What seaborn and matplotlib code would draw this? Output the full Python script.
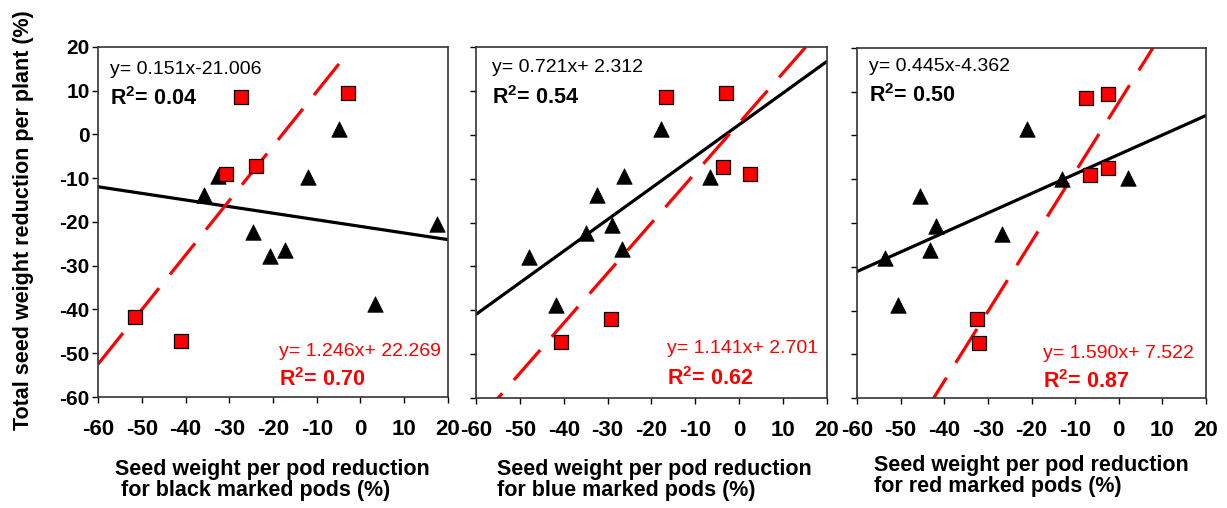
import numpy as np
import pandas as pd
import matplotlib
matplotlib.use("Agg")
import matplotlib.pyplot as plt
import seaborn as sns

# ---- data -------------------------------------------------------------
# black triangles: all-pod plants; red squares: marked-pod plants
black_x1 = [-35.8, -32.5, -5.0, -11.9, -24.5, -20.6, -17.3, 3.4, 17.5]
black_y1 = [-13.8, -9.5, 1.2, -9.7, -22.3, -27.8, -26.3, -38.7, -20.5]
red_x1 = [-27.4, -2.9, -30.8, -24.0, -51.5, -41.1]
red_y1 = [8.6, 9.4, -9.1, -7.3, -41.8, -47.3]

black_x2 = [-47.8, -41.8, -34.9, -32.4, -26.3, -29.1, -26.8, -17.8, -6.7]
black_y2 = [-27.8, -38.7, -22.4, -13.8, -9.5, -20.5, -26.0, 1.4, -9.6]
red_x2 = [-16.8, -3.0, -3.7, 2.5, -29.2, -40.6]
red_y2 = [8.7, 9.5, -7.4, -9.0, -41.9, -47.3]

black_x3 = [-53.7, -50.5, -45.5, -41.8, -43.2, -26.7, -21.1, -13.1, 2.2]
black_y3 = [-28.0, -38.8, -13.9, -20.7, -26.2, -22.4, 1.4, -9.9, -9.7]
red_x3 = [-7.6, -2.4, -6.6, -2.4, -32.5, -32.0]
red_y3 = [8.6, 9.4, -9.1, -7.4, -41.9, -47.3]

# fitted trend lines (slope, intercept) and their printed labels
black_slope = [-0.151, 0.721, 0.445]
black_icpt = [-21.006, 2.312, -4.362]
black_eq = ["y= 0.151x-21.006", "y= 0.721x+ 2.312", "y= 0.445x-4.362"]
black_r2 = ["0.04", "0.54", "0.50"]

red_slope = [1.246, 1.141, 1.590]
red_icpt = [22.269, 2.701, 7.522]
red_eq = ["y= 1.246x+ 22.269", "y= 1.141x+ 2.701", "y= 1.590x+ 7.522"]
red_r2 = ["0.70", "0.62", "0.87"]
red_x_end = [-4.0, 20.0, 20.0]

axis_ticks = list(range(-60, 21, 10))
x_titles = ["Seed weight per pod reduction\n for black marked pods (%)",
            "Seed weight per pod reduction\nfor blue marked pods (%)",
            "Seed weight per pod reduction\nfor red marked pods (%)"]
y_title = "Total seed weight reduction per plant (%)"

# ---- style ------------------------------------------------------------
sns.set_theme(style="white")
plt.rcParams["font.family"] = ["Liberation Sans", "DejaVu Sans"]
plt.rcParams["mathtext.fontset"] = "custom"
plt.rcParams["mathtext.rm"] = "Liberation Sans"
plt.rcParams["mathtext.bf"] = "Liberation Sans:bold"
plt.rcParams["text.color"] = "black"
plt.rcParams["axes.labelcolor"] = "black"
plt.rcParams["xtick.color"] = "black"
plt.rcParams["ytick.color"] = "black"

RED = "#ff0000"
fig = plt.figure(figsize=(12.27, 5.08), dpi=100)

positions = [
    [0.0799, 0.2185, 0.2852, 0.6890],
    [0.3879, 0.2165, 0.2861, 0.6910],
    [0.6985, 0.2160, 0.2844, 0.6900],
]
text_pos = [
    dict(bx=0.034, by=(0.923, 0.834), rx=0.517, ry=(0.117, 0.031)),
    dict(bx=0.046, by=(0.929, 0.838), rx=0.544, ry=(0.128, 0.037)),
    dict(bx=0.034, by=(0.935, 0.845), rx=0.533, ry=(0.115, 0.029)),
]
xlabel_pos = [(0.0937, 0.0965), (0.405, 0.0965), (0.712, 0.104)]

panels = [
    (black_x1, black_y1, red_x1, red_y1),
    (black_x2, black_y2, red_x2, red_y2),
    (black_x3, black_y3, red_x3, red_y3),
]

for i, (bx, by, rx, ry) in enumerate(panels):
    ax = fig.add_axes(positions[i])
    ax.set_xlim(-60, 20)
    ax.set_ylim(-60, 20)

    # trend lines
    xb = np.array([-60.0, 20.0])
    sns.lineplot(x=xb, y=black_slope[i] * xb + black_icpt[i], ax=ax,
                 color="black", lw=2.3, zorder=2)
    xr = np.array([-60.0, red_x_end[i]])
    red_line = sns.lineplot(x=xr, y=red_slope[i] * xr + red_icpt[i], ax=ax,
                            color=RED, lw=2.3, zorder=2)
    red_line.lines[-1].set_dashes((12.5, 5.5))

    # points
    df_b = pd.DataFrame({"x": bx, "y": by})
    df_r = pd.DataFrame({"x": rx, "y": ry})
    sns.scatterplot(data=df_b, x="x", y="y", ax=ax, marker="^", s=125,
                    color="black", edgecolor="black", linewidth=0.5, zorder=3)
    sns.scatterplot(data=df_r, x="x", y="y", ax=ax, marker="s", s=95,
                    color=RED, edgecolor="black", linewidth=0.9, zorder=4)

    ax.set_xlabel("")
    ax.set_ylabel("")
    ax.set_xticks(axis_ticks)
    ax.set_yticks(axis_ticks)
    ax.set_xticklabels([str(t) for t in axis_ticks], fontweight="bold")
    ax.set_yticklabels([str(t) for t in axis_ticks], fontweight="bold")
    ax.tick_params(axis="x", direction="out", length=4, width=1,
                   labelsize=16, pad=12, colors="black", bottom=True)
    ax.tick_params(axis="y", direction="out", length=4, width=1,
                   labelsize=15, pad=2, colors="black", left=True,
                   labelleft=(i == 0))
    for sp in ax.spines.values():
        sp.set_visible(True)
        sp.set_color("#333333")
        sp.set_linewidth(1.2)

    tp = text_pos[i]
    ax.text(tp["bx"], tp["by"][0], black_eq[i], transform=ax.transAxes,
            fontsize=14, color="black", va="baseline", ha="left")
    ax.text(tp["bx"], tp["by"][1], r"$\mathbf{R^2}$= " + black_r2[i],
            transform=ax.transAxes, fontsize=15.5, fontweight="bold",
            color="black", va="baseline", ha="left")
    ax.text(tp["rx"], tp["ry"][0], red_eq[i], transform=ax.transAxes,
            fontsize=14, color=RED, va="baseline", ha="left")
    ax.text(tp["rx"], tp["ry"][1], r"$\mathbf{R^2}$= " + red_r2[i],
            transform=ax.transAxes, fontsize=15.5, fontweight="bold",
            color=RED, va="baseline", ha="left")

    fig.text(xlabel_pos[i][0], xlabel_pos[i][1], x_titles[i], ha="left",
             va="top", fontsize=15.5, fontweight="bold", linespacing=1.0)

fig.text(0.019, 0.566, y_title, rotation=90, ha="center", va="center",
         fontsize=15.5, fontweight="bold")

fig.savefig("out.png", dpi=100)
